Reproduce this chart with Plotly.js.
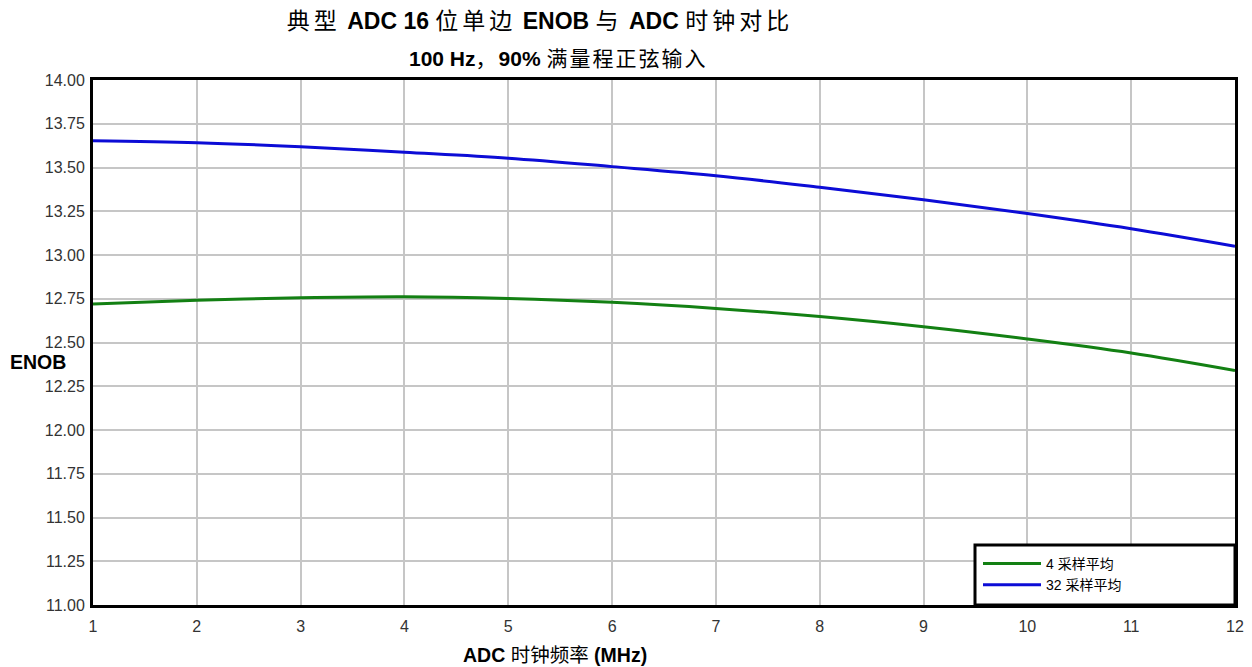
<!DOCTYPE html>
<html>
<head>
<meta charset="utf-8">
<script src="https://cdn.plot.ly/plotly-3.0.1.min.js"></script>
<style>html,body{margin:0;padding:0;background:#fff;}#chart{width:1252px;height:667px;}</style>
</head>
<body>
<div id="chart"></div>
<script>
const clockMHz = [1, 2, 3, 4, 5, 6, 7, 8, 9, 10, 11, 12];
const enob4Avg = [12.72, 12.741, 12.756, 12.762, 12.752, 12.73, 12.695, 12.648, 12.59, 12.52, 12.44, 12.34];
const enob32Avg = [13.653, 13.642, 13.619, 13.587, 13.553, 13.505, 13.453, 13.387, 13.316, 13.237, 13.15, 13.05];
const seriesNames = ["4 采样平均", "32 采样平均"];

const sp = (t, px) => '<span style="letter-spacing:' + px + 'px">' + t + '</span>';
const titleText = sp("典型", 4) + " <b>ADC 16</b> " + sp("位单边", 4) + " <b>ENOB</b> " + sp("与", 4) + " <b>ADC</b> " + sp("时钟对比", 4);
const subtitleText = "<b>100 Hz</b>" + sp("，", 2) + "<b>90%</b> " + sp("满量程正弦输入", 2);
const xTitle = "<b>ADC</b> 时钟频率 <b>(MHz)</b>";
const yTitle = "<b>ENOB</b>";

const FONT = "'Liberation Sans', Arial, 'Noto Sans CJK SC', sans-serif";

const traces = [
  {x: clockMHz, y: enob4Avg, name: seriesNames[0], type: 'scatter', mode: 'lines',
   line: {color: '#138013', width: 3, shape: 'spline'}},
  {x: clockMHz, y: enob32Avg, name: seriesNames[1], type: 'scatter', mode: 'lines',
   line: {color: '#0c0cd6', width: 3, shape: 'spline'}}
];

const W = 1252, H = 667, L = 93, R = 17, T = 80, B = 62;
const pw = W - L - R, ph = H - T - B;

const layout = {
  width: W, height: H,
  margin: {l: L, r: R, t: T, b: B, pad: 0},
  paper_bgcolor: '#fff', plot_bgcolor: '#fff',
  font: {family: FONT, color: '#000'},
  title: {text: titleText, font: {family: FONT, size: 23, color: '#000'},
          xref: 'container', x: 540 / W, xanchor: 'center',
          yref: 'container', y: 1 - 21 / H, yanchor: 'middle'},
  xaxis: {range: [1, 12], dtick: 1, tick0: 1, showgrid: true, gridcolor: '#c6c6c6', gridwidth: 2,
          showline: true, mirror: true, linecolor: '#000', linewidth: 3, zeroline: false,
          ticks: '', ticklabelstandoff: 5, tickfont: {family: FONT, size: 16, color: '#333'}},
  yaxis: {range: [11, 14], dtick: 0.25, tick0: 11, tickformat: '.2f', showgrid: true, gridcolor: '#c6c6c6', gridwidth: 2,
          showline: true, mirror: true, linecolor: '#000', linewidth: 3, zeroline: false,
          ticks: '', ticklabelstandoff: 2, tickfont: {family: FONT, size: 16, color: '#333'}},
  showlegend: true,
  legend: {x: (978 - L) / pw, xanchor: 'left', y: (H - B - 548) / ph, yanchor: 'top',
           bgcolor: 'rgba(0,0,0,0)', borderwidth: 0, font: {family: FONT, size: 14, color: '#000'},
           tracegroupgap: 0, itemwidth: 58},
  shapes: [
    {type: 'rect', xref: 'paper', yref: 'paper', x0: (975 - L) / pw, x1: 1, y0: 0, y1: (H - B - 545) / ph,
     fillcolor: '#fff', line: {color: '#000', width: 3}, layer: 'above'}
  ],
  annotations: [
    {text: subtitleText, xref: 'paper', yref: 'paper', x: (558 - L) / pw, y: (H - B - 58) / ph,
     xanchor: 'center', yanchor: 'middle', showarrow: false, font: {family: FONT, size: 21, color: '#000'}},
    {text: yTitle, xref: 'paper', yref: 'paper', x: 0, xshift: -85, y: (H - B - 362) / ph,
     xanchor: 'left', yanchor: 'middle', showarrow: false, font: {family: FONT, size: 19.5, color: '#000'}},
    {text: xTitle, xref: 'paper', yref: 'paper', x: (555 - L) / pw, y: (H - B - 655) / ph,
     xanchor: 'center', yanchor: 'middle', showarrow: false, font: {family: FONT, size: 19.5, color: '#000'}}
  ]
};

Plotly.newPlot('chart', traces, layout, {displayModeBar: false, staticPlot: true});
</script>
</body>
</html>
